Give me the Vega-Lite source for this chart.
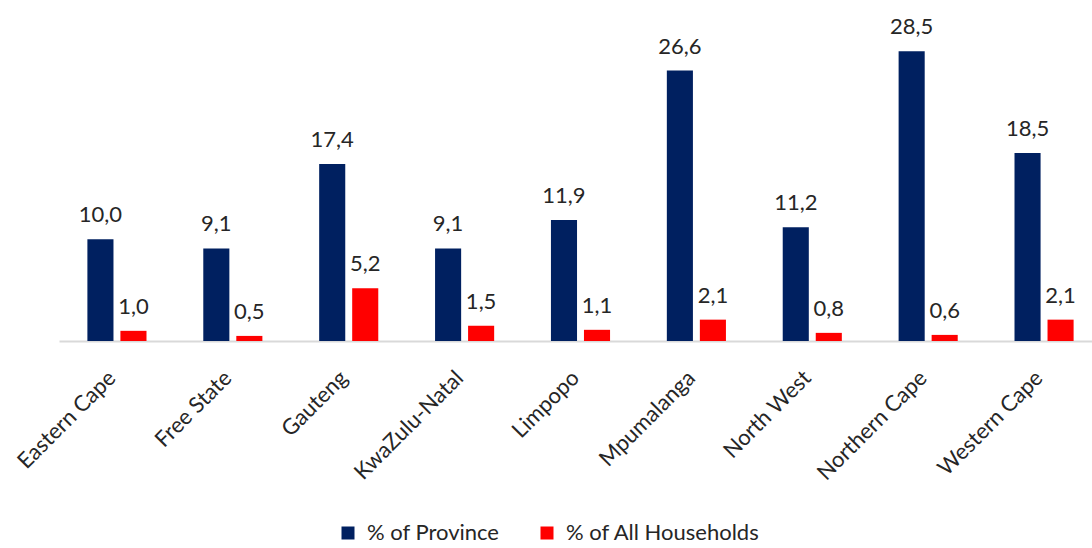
{
  "$schema": "https://vega.github.io/schema/vega-lite/v6.json",
  "width": 1043,
  "height": 305,
  "autosize": {"type": "none"},
  "padding": {"left": 59, "top": 36, "right": 0, "bottom": 207},
  "config": {
    "locale": {"number": {"decimal": ",", "thousands": ".", "grouping": [3], "currency": ["", ""]}},
    "view": {"stroke": null},
    "font": "Lato"
  },
  "data": {
    "values": [
      {"Province": "Eastern Cape", "Series": "% of Province", "Value": 10.0},
      {"Province": "Eastern Cape", "Series": "% of All Households", "Value": 1.0},
      {"Province": "Free State", "Series": "% of Province", "Value": 9.1},
      {"Province": "Free State", "Series": "% of All Households", "Value": 0.5},
      {"Province": "Gauteng", "Series": "% of Province", "Value": 17.4},
      {"Province": "Gauteng", "Series": "% of All Households", "Value": 5.2},
      {"Province": "KwaZulu-Natal", "Series": "% of Province", "Value": 9.1},
      {"Province": "KwaZulu-Natal", "Series": "% of All Households", "Value": 1.5},
      {"Province": "Limpopo", "Series": "% of Province", "Value": 11.9},
      {"Province": "Limpopo", "Series": "% of All Households", "Value": 1.1},
      {"Province": "Mpumalanga", "Series": "% of Province", "Value": 26.6},
      {"Province": "Mpumalanga", "Series": "% of All Households", "Value": 2.1},
      {"Province": "North West", "Series": "% of Province", "Value": 11.2},
      {"Province": "North West", "Series": "% of All Households", "Value": 0.8},
      {"Province": "Northern Cape", "Series": "% of Province", "Value": 28.5},
      {"Province": "Northern Cape", "Series": "% of All Households", "Value": 0.6},
      {"Province": "Western Cape", "Series": "% of Province", "Value": 18.5},
      {"Province": "Western Cape", "Series": "% of All Households", "Value": 2.1}
    ]
  },
  "encoding": {
    "x": {
      "field": "Province",
      "type": "nominal",
      "sort": null,
      "scale": {"paddingInner": 0.49, "paddingOuter": 0.245},
      "axis": {
        "title": null,
        "labelAngle": -45,
        "labelFontSize": 22,
        "labelColor": "#262626",
        "labelPadding": 26,
        "labelOffset": -12,
        "labelLimit": 0,
        "ticks": false,
        "domainColor": "#d9d9d9",
        "domainWidth": 2
      }
    },
    "xOffset": {
      "field": "Series",
      "type": "nominal",
      "sort": ["% of Province", "% of All Households"],
      "scale": {"paddingInner": 0.21}
    },
    "y": {
      "field": "Value",
      "type": "quantitative",
      "scale": {"domain": [0, 30]},
      "axis": null
    }
  },
  "layer": [
    {
      "mark": {"type": "bar"},
      "encoding": {
        "color": {
          "field": "Series",
          "type": "nominal",
          "sort": ["% of Province", "% of All Households"],
          "scale": {"domain": ["% of Province", "% of All Households"], "range": ["#002060", "#ff0000"]},
          "legend": {
            "title": null,
            "orient": "none",
            "direction": "horizontal",
            "legendX": 278,
            "legendY": 486,
            "symbolType": "square",
            "symbolSize": 169,
            "symbolOpacity": 1,
            "labelFontSize": 22,
            "labelLimit": 0,
            "labelColor": "#262626",
            "labelOffset": 8,
            "columnPadding": 36
          }
        }
      }
    },
    {
      "mark": {"type": "text", "baseline": "alphabetic", "dy": -17, "fontSize": 22, "color": "#262626"},
      "encoding": {
        "text": {"field": "Value", "type": "quantitative", "format": ".1f"}
      }
    }
  ]
}
